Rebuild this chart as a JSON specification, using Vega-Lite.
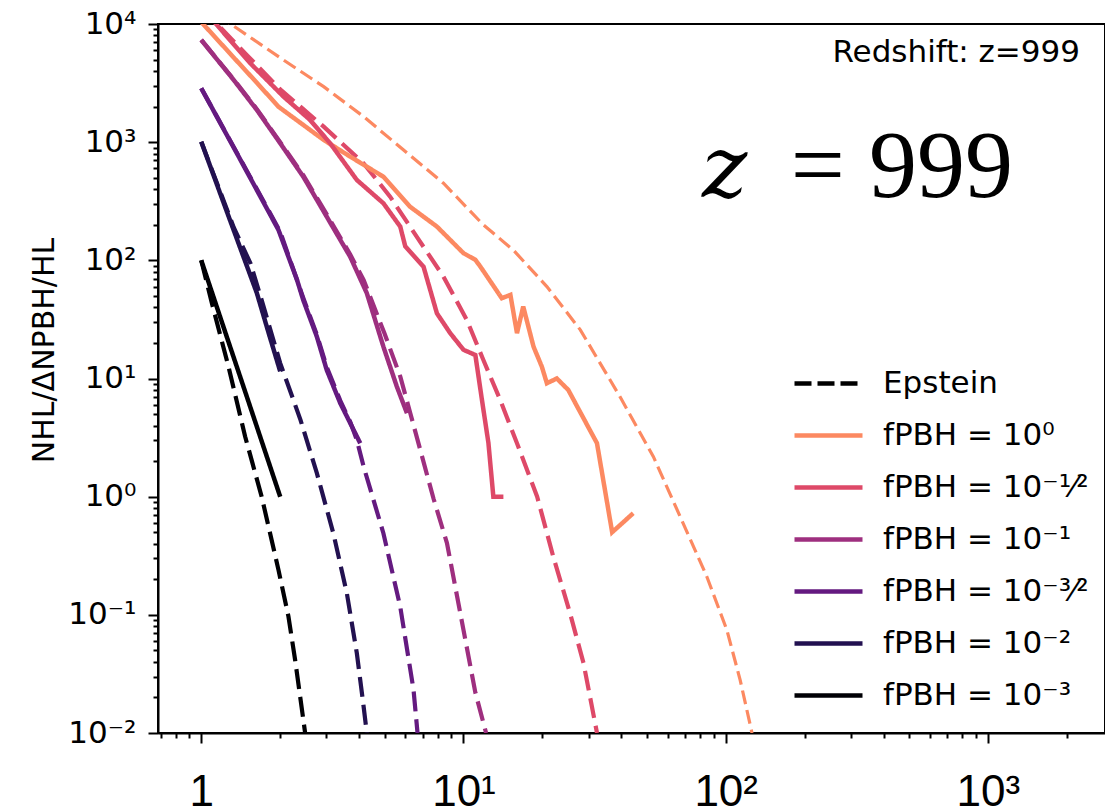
{
  "$schema": "https://vega.github.io/schema/vega-lite/v6.json",
  "width": 947,
  "height": 709,
  "autosize": {"type": "none"},
  "padding": {"left": 158, "top": 24, "right": 0, "bottom": 77},
  "background": "white",
  "title": {"text": "Redshift: z=999", "anchor": "end", "frame": "group", "font": "DejaVu Sans", "fontSize": 31, "fontWeight": "normal", "color": "black", "baseline": "alphabetic", "offset": -85, "dx": -25},
  "datasets": {
    "curves": [
      {"s": "fPBH = 10⁰", "k": "sim", "x": 1, "y": 10400},
      {"s": "fPBH = 10⁰", "k": "sim", "x": 1.33, "y": 5200},
      {"s": "fPBH = 10⁰", "k": "sim", "x": 1.63, "y": 3180},
      {"s": "fPBH = 10⁰", "k": "sim", "x": 1.97, "y": 1995},
      {"s": "fPBH = 10⁰", "k": "sim", "x": 2.93, "y": 1045},
      {"s": "fPBH = 10⁰", "k": "sim", "x": 3.7, "y": 754},
      {"s": "fPBH = 10⁰", "k": "sim", "x": 4.95, "y": 510},
      {"s": "fPBH = 10⁰", "k": "sim", "x": 6.26, "y": 284},
      {"s": "fPBH = 10⁰", "k": "sim", "x": 7.92, "y": 193},
      {"s": "fPBH = 10⁰", "k": "sim", "x": 10, "y": 115},
      {"s": "fPBH = 10⁰", "k": "sim", "x": 11.1, "y": 101},
      {"s": "fPBH = 10⁰", "k": "sim", "x": 11.6, "y": 88.5},
      {"s": "fPBH = 10⁰", "k": "sim", "x": 14.0, "y": 47.8},
      {"s": "fPBH = 10⁰", "k": "sim", "x": 15.1, "y": 51},
      {"s": "fPBH = 10⁰", "k": "sim", "x": 16.0, "y": 24.2},
      {"s": "fPBH = 10⁰", "k": "sim", "x": 16.9, "y": 40.6},
      {"s": "fPBH = 10⁰", "k": "sim", "x": 18.5, "y": 18.6},
      {"s": "fPBH = 10⁰", "k": "sim", "x": 19.9, "y": 12.6},
      {"s": "fPBH = 10⁰", "k": "sim", "x": 20.8, "y": 9.12},
      {"s": "fPBH = 10⁰", "k": "sim", "x": 22.7, "y": 10.0},
      {"s": "fPBH = 10⁰", "k": "sim", "x": 25.1, "y": 8.0},
      {"s": "fPBH = 10⁰", "k": "sim", "x": 32.3, "y": 2.83},
      {"s": "fPBH = 10⁰", "k": "sim", "x": 36.9, "y": 0.5},
      {"s": "fPBH = 10⁰", "k": "sim", "x": 44.4, "y": 0.724},

      {"s": "fPBH = 10⁻¹⁄²", "k": "sim", "x": 1, "y": 13800},
      {"s": "fPBH = 10⁻¹⁄²", "k": "sim", "x": 1.148, "y": 9800},
      {"s": "fPBH = 10⁻¹⁄²", "k": "sim", "x": 1.54, "y": 4640},
      {"s": "fPBH = 10⁻¹⁄²", "k": "sim", "x": 2.06, "y": 2427},
      {"s": "fPBH = 10⁻¹⁄²", "k": "sim", "x": 2.6, "y": 1542},
      {"s": "fPBH = 10⁻¹⁄²", "k": "sim", "x": 3.1, "y": 980},
      {"s": "fPBH = 10⁻¹⁄²", "k": "sim", "x": 3.92, "y": 479},
      {"s": "fPBH = 10⁻¹⁄²", "k": "sim", "x": 4.95, "y": 304},
      {"s": "fPBH = 10⁻¹⁄²", "k": "sim", "x": 5.74, "y": 193},
      {"s": "fPBH = 10⁻¹⁄²", "k": "sim", "x": 6.0, "y": 131},
      {"s": "fPBH = 10⁻¹⁄²", "k": "sim", "x": 7.04, "y": 88.5},
      {"s": "fPBH = 10⁻¹⁄²", "k": "sim", "x": 7.92, "y": 35.6},
      {"s": "fPBH = 10⁻¹⁄²", "k": "sim", "x": 8.9, "y": 24.2},
      {"s": "fPBH = 10⁻¹⁄²", "k": "sim", "x": 10, "y": 17.5},
      {"s": "fPBH = 10⁻¹⁄²", "k": "sim", "x": 11.1, "y": 15.8},
      {"s": "fPBH = 10⁻¹⁄²", "k": "sim", "x": 11.76, "y": 6.6},
      {"s": "fPBH = 10⁻¹⁄²", "k": "sim", "x": 12.45, "y": 2.85},
      {"s": "fPBH = 10⁻¹⁄²", "k": "sim", "x": 13.0, "y": 1.0},
      {"s": "fPBH = 10⁻¹⁄²", "k": "sim", "x": 14.2, "y": 1.0},

      {"s": "fPBH = 10⁻¹", "k": "sim", "x": 1, "y": 7330},
      {"s": "fPBH = 10⁻¹", "k": "sim", "x": 1.33, "y": 3357},
      {"s": "fPBH = 10⁻¹", "k": "sim", "x": 1.63, "y": 1872},
      {"s": "fPBH = 10⁻¹", "k": "sim", "x": 2.0, "y": 980},
      {"s": "fPBH = 10⁻¹", "k": "sim", "x": 2.45, "y": 510},
      {"s": "fPBH = 10⁻¹", "k": "sim", "x": 3.01, "y": 234},
      {"s": "fPBH = 10⁻¹", "k": "sim", "x": 3.7, "y": 107},
      {"s": "fPBH = 10⁻¹", "k": "sim", "x": 4.28, "y": 52.7},
      {"s": "fPBH = 10⁻¹", "k": "sim", "x": 4.95, "y": 18.6},
      {"s": "fPBH = 10⁻¹", "k": "sim", "x": 5.57, "y": 8.55},
      {"s": "fPBH = 10⁻¹", "k": "sim", "x": 6.09, "y": 5.08},

      {"s": "fPBH = 10⁻³⁄²", "k": "sim", "x": 1, "y": 2860},
      {"s": "fPBH = 10⁻³⁄²", "k": "sim", "x": 1.41, "y": 710},
      {"s": "fPBH = 10⁻³⁄²", "k": "sim", "x": 1.97, "y": 181},
      {"s": "fPBH = 10⁻³⁄²", "k": "sim", "x": 2.32, "y": 68},
      {"s": "fPBH = 10⁻³⁄²", "k": "sim", "x": 2.45, "y": 46},
      {"s": "fPBH = 10⁻³⁄²", "k": "sim", "x": 2.76, "y": 22.6},
      {"s": "fPBH = 10⁻³⁄²", "k": "sim", "x": 3.01, "y": 11.8},
      {"s": "fPBH = 10⁻³⁄²", "k": "sim", "x": 3.39, "y": 6.18},
      {"s": "fPBH = 10⁻³⁄²", "k": "sim", "x": 3.7, "y": 4.19},
      {"s": "fPBH = 10⁻³⁄²", "k": "sim", "x": 4.04, "y": 2.83},

      {"s": "fPBH = 10⁻²", "k": "sim", "x": 1, "y": 1009},
      {"s": "fPBH = 10⁻²", "k": "sim", "x": 1.25, "y": 261},
      {"s": "fPBH = 10⁻²", "k": "sim", "x": 1.5, "y": 87},
      {"s": "fPBH = 10⁻²", "k": "sim", "x": 1.63, "y": 52.7},
      {"s": "fPBH = 10⁻²", "k": "sim", "x": 1.8, "y": 25},
      {"s": "fPBH = 10⁻²", "k": "sim", "x": 2, "y": 11.5},

      {"s": "fPBH = 10⁻³", "k": "sim", "x": 1, "y": 100},
      {"s": "fPBH = 10⁻³", "k": "sim", "x": 1.25, "y": 22.7},
      {"s": "fPBH = 10⁻³", "k": "sim", "x": 1.5, "y": 6.78},
      {"s": "fPBH = 10⁻³", "k": "sim", "x": 1.75, "y": 2.43},
      {"s": "fPBH = 10⁻³", "k": "sim", "x": 2, "y": 1},

      {"s": "fPBH = 10⁰", "k": "eps", "x": 1, "y": 14800},
      {"s": "fPBH = 10⁰", "k": "eps", "x": 1.368, "y": 9200},
      {"s": "fPBH = 10⁰", "k": "eps", "x": 2.06, "y": 4955},
      {"s": "fPBH = 10⁰", "k": "eps", "x": 2.93, "y": 2951},
      {"s": "fPBH = 10⁰", "k": "eps", "x": 4.16, "y": 1645},
      {"s": "fPBH = 10⁰", "k": "eps", "x": 5.91, "y": 859},
      {"s": "fPBH = 10⁰", "k": "eps", "x": 8.39, "y": 449},
      {"s": "fPBH = 10⁰", "k": "eps", "x": 11.9, "y": 200},
      {"s": "fPBH = 10⁰", "k": "eps", "x": 15.5, "y": 122},
      {"s": "fPBH = 10⁰", "k": "eps", "x": 20.8, "y": 60},
      {"s": "fPBH = 10⁰", "k": "eps", "x": 27.9, "y": 25.8},
      {"s": "fPBH = 10⁰", "k": "eps", "x": 39.5, "y": 7.03},
      {"s": "fPBH = 10⁰", "k": "eps", "x": 53, "y": 2.18},
      {"s": "fPBH = 10⁰", "k": "eps", "x": 67, "y": 0.68},
      {"s": "fPBH = 10⁰", "k": "eps", "x": 84.7, "y": 0.211},
      {"s": "fPBH = 10⁰", "k": "eps", "x": 101, "y": 0.0746},
      {"s": "fPBH = 10⁰", "k": "eps", "x": 113.5, "y": 0.0282},
      {"s": "fPBH = 10⁰", "k": "eps", "x": 126, "y": 0.01},

      {"s": "fPBH = 10⁻¹⁄²", "k": "eps", "x": 1, "y": 13800},
      {"s": "fPBH = 10⁻¹⁄²", "k": "eps", "x": 1.5, "y": 5400},
      {"s": "fPBH = 10⁻¹⁄²", "k": "eps", "x": 2, "y": 2800},
      {"s": "fPBH = 10⁻¹⁄²", "k": "eps", "x": 2.93, "y": 1352},
      {"s": "fPBH = 10⁻¹⁄²", "k": "eps", "x": 4.16, "y": 662},
      {"s": "fPBH = 10⁻¹⁄²", "k": "eps", "x": 5.25, "y": 346},
      {"s": "fPBH = 10⁻¹⁄²", "k": "eps", "x": 6.64, "y": 158},
      {"s": "fPBH = 10⁻¹⁄²", "k": "eps", "x": 8.39, "y": 72.8},
      {"s": "fPBH = 10⁻¹⁄²", "k": "eps", "x": 10.3, "y": 31.3},
      {"s": "fPBH = 10⁻¹⁄²", "k": "eps", "x": 11.9, "y": 14.4},
      {"s": "fPBH = 10⁻¹⁄²", "k": "eps", "x": 13.8, "y": 6.6},
      {"s": "fPBH = 10⁻¹⁄²", "k": "eps", "x": 16.0, "y": 2.83},
      {"s": "fPBH = 10⁻¹⁄²", "k": "eps", "x": 19.1, "y": 1.0},
      {"s": "fPBH = 10⁻¹⁄²", "k": "eps", "x": 22.0, "y": 0.311},
      {"s": "fPBH = 10⁻¹⁄²", "k": "eps", "x": 25.5, "y": 0.103},
      {"s": "fPBH = 10⁻¹⁄²", "k": "eps", "x": 28.7, "y": 0.039},
      {"s": "fPBH = 10⁻¹⁄²", "k": "eps", "x": 32.3, "y": 0.01},

      {"s": "fPBH = 10⁻¹", "k": "eps", "x": 1, "y": 7330},
      {"s": "fPBH = 10⁻¹", "k": "eps", "x": 1.33, "y": 3400},
      {"s": "fPBH = 10⁻¹", "k": "eps", "x": 1.63, "y": 1900},
      {"s": "fPBH = 10⁻¹", "k": "eps", "x": 2, "y": 1000},
      {"s": "fPBH = 10⁻¹", "k": "eps", "x": 2.45, "y": 525},
      {"s": "fPBH = 10⁻¹", "k": "eps", "x": 3.01, "y": 245},
      {"s": "fPBH = 10⁻¹", "k": "eps", "x": 3.7, "y": 112},
      {"s": "fPBH = 10⁻¹", "k": "eps", "x": 4.16, "y": 68.3},
      {"s": "fPBH = 10⁻¹", "k": "eps", "x": 5, "y": 24},
      {"s": "fPBH = 10⁻¹", "k": "eps", "x": 5.74, "y": 10.4},
      {"s": "fPBH = 10⁻¹", "k": "eps", "x": 6.27, "y": 5.08},
      {"s": "fPBH = 10⁻¹", "k": "eps", "x": 7.69, "y": 0.96},
      {"s": "fPBH = 10⁻¹", "k": "eps", "x": 8.65, "y": 0.405},
      {"s": "fPBH = 10⁻¹", "k": "eps", "x": 10, "y": 0.0746},
      {"s": "fPBH = 10⁻¹", "k": "eps", "x": 11.1, "y": 0.022},
      {"s": "fPBH = 10⁻¹", "k": "eps", "x": 12.2, "y": 0.01},

      {"s": "fPBH = 10⁻³⁄²", "k": "eps", "x": 1, "y": 2860},
      {"s": "fPBH = 10⁻³⁄²", "k": "eps", "x": 1.5, "y": 560},
      {"s": "fPBH = 10⁻³⁄²", "k": "eps", "x": 2, "y": 175},
      {"s": "fPBH = 10⁻³⁄²", "k": "eps", "x": 2.45, "y": 48},
      {"s": "fPBH = 10⁻³⁄²", "k": "eps", "x": 2.76, "y": 23.5},
      {"s": "fPBH = 10⁻³⁄²", "k": "eps", "x": 3.01, "y": 12.5},
      {"s": "fPBH = 10⁻³⁄²", "k": "eps", "x": 3.39, "y": 6.5},
      {"s": "fPBH = 10⁻³⁄²", "k": "eps", "x": 3.7, "y": 4.3},
      {"s": "fPBH = 10⁻³⁄²", "k": "eps", "x": 3.92, "y": 3.02},
      {"s": "fPBH = 10⁻³⁄²", "k": "eps", "x": 4.16, "y": 1.8},
      {"s": "fPBH = 10⁻³⁄²", "k": "eps", "x": 4.95, "y": 0.49},
      {"s": "fPBH = 10⁻³⁄²", "k": "eps", "x": 5.74, "y": 0.117},
      {"s": "fPBH = 10⁻³⁄²", "k": "eps", "x": 6.45, "y": 0.0232},
      {"s": "fPBH = 10⁻³⁄²", "k": "eps", "x": 6.68, "y": 0.01},

      {"s": "fPBH = 10⁻²", "k": "eps", "x": 1, "y": 1009},
      {"s": "fPBH = 10⁻²", "k": "eps", "x": 1.33, "y": 190},
      {"s": "fPBH = 10⁻²", "k": "eps", "x": 1.54, "y": 94.5},
      {"s": "fPBH = 10⁻²", "k": "eps", "x": 1.7, "y": 46},
      {"s": "fPBH = 10⁻²", "k": "eps", "x": 2, "y": 13.5},
      {"s": "fPBH = 10⁻²", "k": "eps", "x": 2.39, "y": 4.47},
      {"s": "fPBH = 10⁻²", "k": "eps", "x": 2.76, "y": 1.58},
      {"s": "fPBH = 10⁻²", "k": "eps", "x": 3.19, "y": 0.49},
      {"s": "fPBH = 10⁻²", "k": "eps", "x": 3.59, "y": 0.153},
      {"s": "fPBH = 10⁻²", "k": "eps", "x": 3.92, "y": 0.0474},
      {"s": "fPBH = 10⁻²", "k": "eps", "x": 4.16, "y": 0.0168},
      {"s": "fPBH = 10⁻²", "k": "eps", "x": 4.28, "y": 0.01},

      {"s": "fPBH = 10⁻³", "k": "eps", "x": 1, "y": 100},
      {"s": "fPBH = 10⁻³", "k": "eps", "x": 1.098, "y": 43.4},
      {"s": "fPBH = 10⁻³", "k": "eps", "x": 1.27, "y": 12.6},
      {"s": "fPBH = 10⁻³", "k": "eps", "x": 1.47, "y": 3.23},
      {"s": "fPBH = 10⁻³", "k": "eps", "x": 1.7, "y": 1.0},
      {"s": "fPBH = 10⁻³", "k": "eps", "x": 1.97, "y": 0.24},
      {"s": "fPBH = 10⁻³", "k": "eps", "x": 2.15, "y": 0.097},
      {"s": "fPBH = 10⁻³", "k": "eps", "x": 2.28, "y": 0.0416},
      {"s": "fPBH = 10⁻³", "k": "eps", "x": 2.49, "y": 0.01}
    ]
  },
  "data": {"name": "curves"},
  "layer": [
    {
      "transform": [{"filter": "datum.k == 'eps' && datum.s != 'fPBH = 10⁰'"}],
      "mark": {"type": "line", "strokeWidth": 4.2, "strokeDash": [20, 8], "clip": true},
      "encoding": {
        "x": {
          "field": "x", "type": "quantitative",
          "scale": {"type": "log", "domain": [0.684, 2796], "nice": false},
          "axis": {
            "values": [0.7, 0.8, 0.9, 1, 2, 3, 4, 5, 6, 7, 8, 9, 10, 20, 30, 40, 50, 60, 70, 80, 90, 100, 200, 300, 400, 500, 600, 700, 800, 900, 1000, 2000],
            "labelExpr": "datum.value == 1 ? '1' : datum.value == 10 ? '10¹' : datum.value == 100 ? '10²' : datum.value == 1000 ? '10³' : ''",
            "tickSize": {"condition": {"test": "abs(log(datum.value)/LN10 - round(log(datum.value)/LN10)) < 0.001", "value": 10}, "value": 5},
            "labelFont": "Liberation Sans", "labelFontSize": 44, "labelPadding": 27,
            "labelOverlap": false, "labelFlush": false, "title": null
          }
        },
        "y": {
          "field": "y", "type": "quantitative",
          "scale": {"type": "log", "domain": [0.01, 10000], "nice": false},
          "axis": {
            "values": [0.01, 0.02, 0.03, 0.04, 0.05, 0.06, 0.07, 0.08, 0.09, 0.1, 0.2, 0.3, 0.4, 0.5, 0.6, 0.7, 0.8, 0.9, 1, 2, 3, 4, 5, 6, 7, 8, 9, 10, 20, 30, 40, 50, 60, 70, 80, 90, 100, 200, 300, 400, 500, 600, 700, 800, 900, 1000, 2000, 3000, 4000, 5000, 6000, 7000, 8000, 9000, 10000],
            "labelExpr": "abs(log(datum.value)/LN10 - round(log(datum.value)/LN10)) < 0.001 ? '10' + ['⁻²','⁻¹','⁰','¹','²','³','⁴'][round(log(datum.value)/LN10) + 2] : ''",
            "tickSize": {"condition": {"test": "abs(log(datum.value)/LN10 - round(log(datum.value)/LN10)) < 0.001", "value": 10}, "value": 5},
            "labelFont": "DejaVu Sans", "labelFontSize": 31, "labelPadding": 12,
            "labelOverlap": false, "labelFlush": false,
            "title": "NHL/ΔNPBH/HL", "titleFont": "DejaVu Sans", "titleFontSize": 30, "titleFontWeight": "normal", "titlePadding": 8, "titleY": 326
          }
        },
        "color": {"field": "s", "type": "nominal"}
      }
    },
    {
      "transform": [{"filter": "datum.k == 'eps' && datum.s == 'fPBH = 10⁰'"}],
      "mark": {"type": "line", "strokeWidth": 3.2, "strokeDash": [14, 6], "clip": true},
      "encoding": {
        "x": {"field": "x", "type": "quantitative"},
        "y": {"field": "y", "type": "quantitative"},
        "color": {"field": "s", "type": "nominal"}
      }
    },
    {
      "transform": [{"filter": "datum.k == 'sim'"}],
      "mark": {"type": "line", "strokeWidth": 4.5, "clip": true},
      "encoding": {
        "x": {"field": "x", "type": "quantitative"},
        "y": {"field": "y", "type": "quantitative"},
        "color": {
          "field": "s", "type": "nominal",
          "scale": {
            "domain": ["Epstein", "fPBH = 10⁰", "fPBH = 10⁻¹⁄²", "fPBH = 10⁻¹", "fPBH = 10⁻³⁄²", "fPBH = 10⁻²", "fPBH = 10⁻³"],
            "range": ["#000000", "#fc8961", "#de4968", "#9e2f7f", "#641a80", "#221150", "#000004"]
          },
          "legend": {"title": null}
        },
        "strokeDash": {
          "field": "s", "type": "nominal",
          "scale": {
            "domain": ["Epstein", "fPBH = 10⁰", "fPBH = 10⁻¹⁄²", "fPBH = 10⁻¹", "fPBH = 10⁻³⁄²", "fPBH = 10⁻²", "fPBH = 10⁻³"],
            "range": [[17, 6], [1, 0], [1, 0], [1, 0], [1, 0], [1, 0], [1, 0]]
          },
          "legend": {"title": null}
        }
      }
    },
    {
      "data": {"values": [{"t": "z"}]},
      "mark": {"type": "text", "font": "DejaVu Serif", "fontSize": 86, "fontStyle": "italic", "align": "center", "baseline": "alphabetic", "color": "black"},
      "encoding": {
        "x": {"datum": 99.1, "type": "quantitative"},
        "y": {"datum": 346, "type": "quantitative"},
        "text": {"field": "t"}
      }
    },
    {
      "data": {"values": [{"t": "= 999"}]},
      "mark": {"type": "text", "font": "Liberation Serif", "fontSize": 96, "align": "right", "baseline": "alphabetic", "color": "black"},
      "encoding": {
        "x": {"datum": 1246, "type": "quantitative"},
        "y": {"datum": 346, "type": "quantitative"},
        "text": {"field": "t"}
      }
    }
  ],
  "config": {
    "view": {"stroke": "black", "strokeWidth": 2},
    "axis": {"domainColor": "black", "domainWidth": 2, "tickColor": "black", "tickWidth": 2, "labelColor": "black", "titleColor": "black", "grid": false},
    "legend": {
      "orient": "none", "legendX": 634, "legendY": 323,
      "labelFont": "DejaVu Sans", "labelFontSize": 31, "labelColor": "black",
      "symbolType": "stroke", "symbolSize": 4624, "symbolStrokeWidth": 4.5,
      "rowPadding": -2.5, "labelOffset": 18, "labelLimit": 600, "padding": 0
    }
  }
}
